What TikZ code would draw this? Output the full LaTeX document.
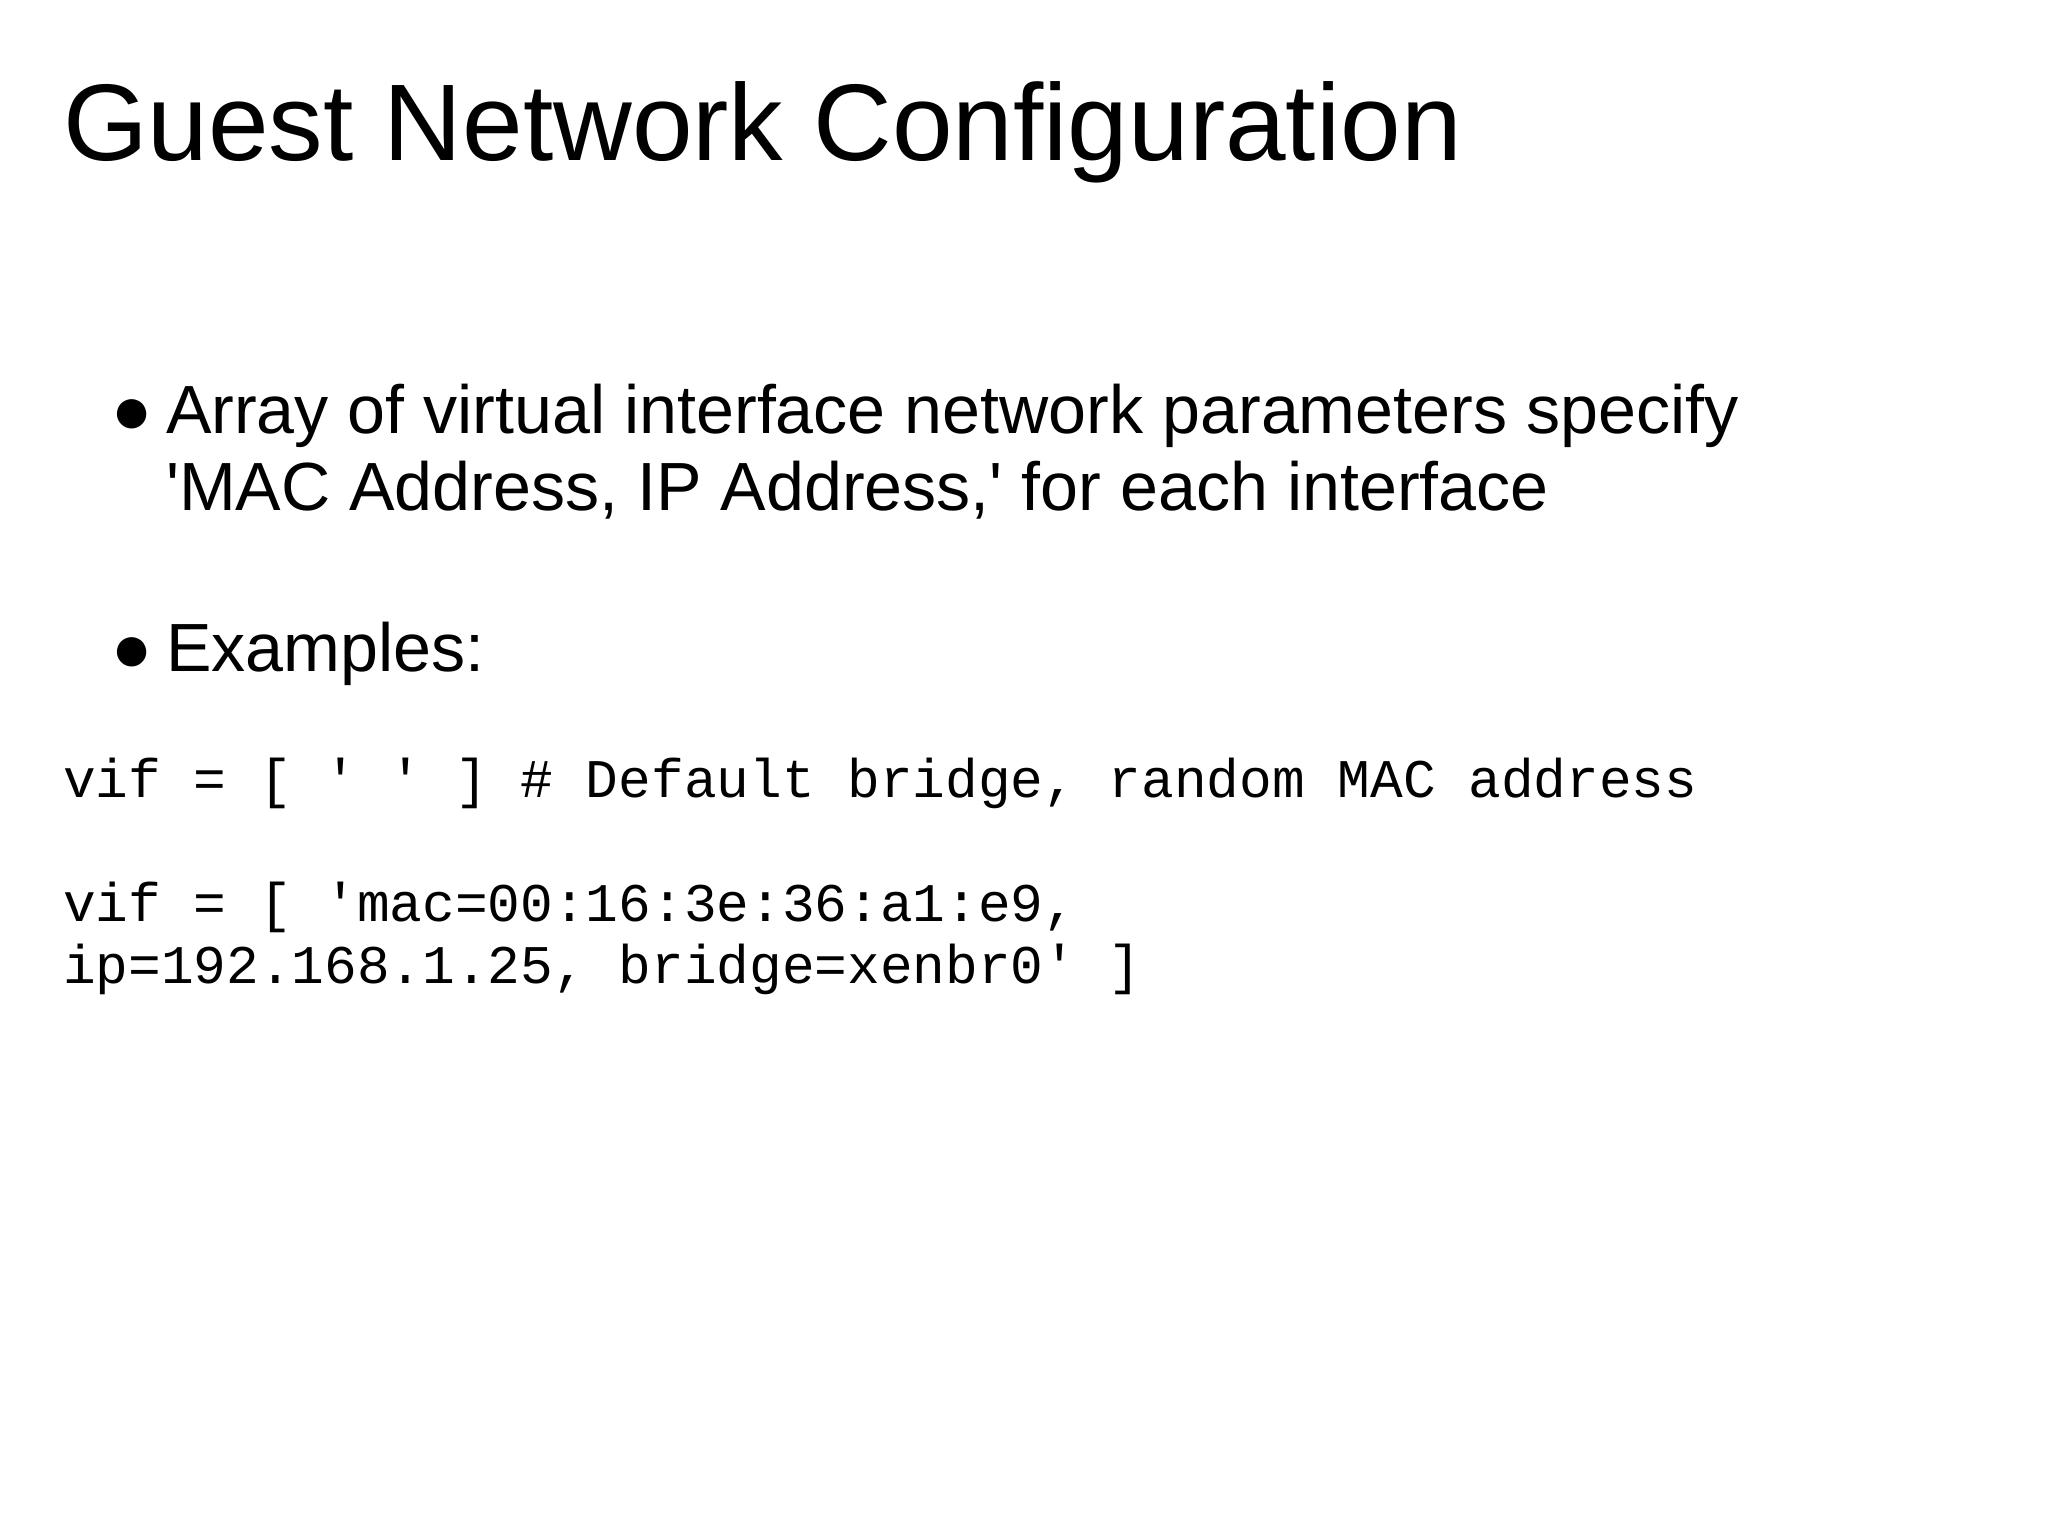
\documentclass[tikz,border=0pt]{standalone}
\usepackage{fontspec}
\setmainfont{Liberation Sans}
\setmonofont{Liberation Mono}
\begin{document}
\begin{tikzpicture}[
  every node/.style={inner sep=0pt, outer sep=0pt, anchor=base west},
  ttl/.style={font=\fontsize{31pt}{37pt}\selectfont},
  bul/.style={font=\fontsize{19.4pt}{22pt}\selectfont},
  code/.style={font=\ttfamily\fontsize{15.5pt}{18pt}\selectfont}]
\useasboundingbox (0,0) rectangle (20.48,15.36);
\node[ttl] (title) at (0.63,15.36-1.61) {Guest Network Configuration};
\node[bul] (b1) at (1.12,15.36-4.34) {●};
\node[bul] (l1) at (1.66,15.36-4.34) {Array of virtual interface network parameters specify};
\node[bul] (l2) at (1.66,15.36-5.11) {\textquotesingle MAC Address, IP Address,\textquotesingle{} for each interface};
\node[bul] (b2) at (1.12,15.36-6.72) {●};
\node[bul] (l3) at (1.66,15.36-6.72) {Examples:};
\node[code] (c1) at (0.63,15.36-7.98) {vif = [ ' ' ] \# Default bridge, random MAC address};
\node[code] (c2) at (0.63,15.36-9.22) {vif = [ 'mac=00:16:3e:36:a1:e9,};
\node[code] (c3) at (0.63,15.36-9.84) {ip=192.168.1.25, bridge=xenbr0' ]};
\end{tikzpicture}
\end{document}
